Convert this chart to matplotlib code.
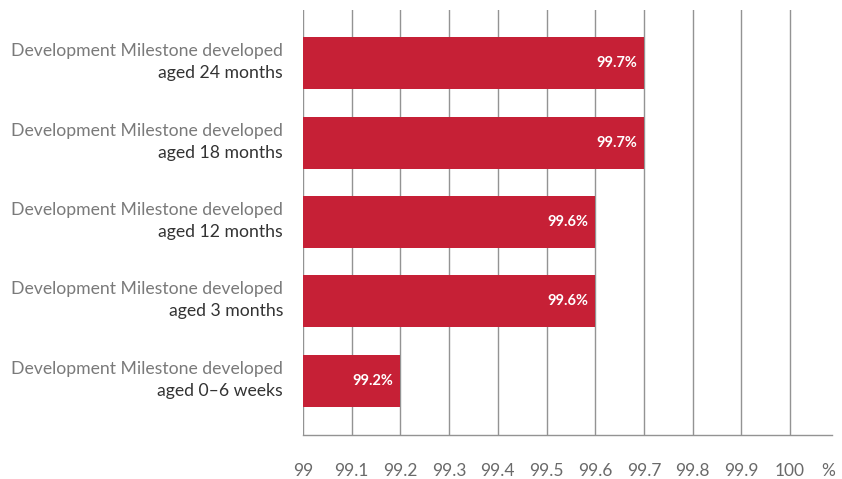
import matplotlib
matplotlib.use("Agg")
import matplotlib.pyplot as plt
from matplotlib.transforms import blended_transform_factory, offset_copy

# Data
categories_top = ["Development Milestone developed"] * 5
categories_bottom = ["aged 24 months", "aged 18 months", "aged 12 months",
                     "aged 3 months", "aged 0\u20136 weeks"]
values = [99.7, 99.7, 99.6, 99.6, 99.2]
ticks = [99, 99.1, 99.2, 99.3, 99.4, 99.5, 99.6, 99.7, 99.8, 99.9, 100]
tick_labels = ["99", "99.1", "99.2", "99.3", "99.4", "99.5", "99.6",
               "99.7", "99.8", "99.9", "100"]

plt.rcParams["font.family"] = ["Lato", "DejaVu Sans"]

BAR = "#C62036"
GRID = "#939393"
FS = 12.7

fig = plt.figure(figsize=(8.42, 4.79), dpi=100)
ax = fig.add_axes([0.3599, 0.0919, 0.988 - 0.3599, 0.979 - 0.0919])

base = 99.0
y = list(range(len(values)))
ax.barh(y, [v - base for v in values], left=base, height=0.655,
        color=BAR, zorder=3)

ax.set_xlim(99.0, 100.086)
ax.set_ylim(4.68, -0.667)
ax.set_xticks(ticks)
ax.set_xticklabels(tick_labels)
ax.set_yticks([])
ax.tick_params(axis="x", length=0, pad=20, labelsize=12.5, labelcolor="#6a6a6a")
ax.grid(axis="x", color=GRID, linewidth=1.0, zorder=0)

for s in ["top", "right", "left"]:
    ax.spines[s].set_visible(False)
ax.spines["bottom"].set_color(GRID)
ax.spines["bottom"].set_linewidth(1.0)

# "%" unit on the same baseline as the tick labels
fig.canvas.draw()
bb = ax.get_xticklabels()[-1].get_window_extent()
fig.text(828 / 842, (bb.y0 + bb.y1) / 2 / fig.bbox.height, "%", ha="center",
         va="center", fontsize=12.5, color="#6a6a6a")

# Value labels inside bar ends
for yi, v in zip(y, values):
    tr = offset_copy(ax.transData, fig=fig, x=-7, y=0, units="dots")
    ax.text(v, yi, f"{v}%", transform=tr, ha="right", va="center",
            color="white", fontsize=10.5, fontweight="bold", zorder=4)

# Two-line category labels
lab_tr = blended_transform_factory(ax.transAxes, ax.transData)
for yi, top, bottom in zip(y, categories_top, categories_bottom):
    t1 = offset_copy(lab_tr, fig=fig, x=-20, y=12, units="dots")
    t2 = offset_copy(lab_tr, fig=fig, x=-20, y=-10, units="dots")
    ax.text(0, yi, top, transform=t1, ha="right", va="center",
            fontsize=FS, color="#7a7a7a")
    ax.text(0, yi, bottom, transform=t2, ha="right", va="center",
            fontsize=FS, color="#333333")

fig.savefig("out.png", dpi=100)
